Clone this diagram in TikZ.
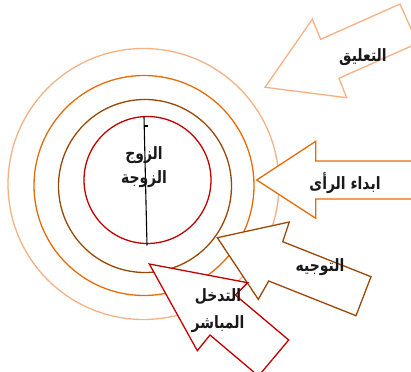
\documentclass[tikz,border=0pt]{standalone}
\usepackage{fontspec}
\newfontfamily\arabicfont[Script=Arabic, FakeStretch=0.82]{DejaVu Sans}
\TeXXeTstate=1
\usetikzlibrary{positioning}
\definecolor{ringpeach}{HTML}{F4B183}
\definecolor{ringorange}{HTML}{E46C0A}
\definecolor{ringbrown}{HTML}{984807}
\definecolor{ringred}{HTML}{C00000}

\begin{document}
\begin{tikzpicture}[
    x=1pt, y=-1pt,
    ring/.style={draw=#1, circle, line width=1.3pt, inner sep=0pt},
    bigarrow/.style={draw=#1, line width=1.3pt, fill=white, line join=miter},
    lbl/.style={font=\arabicfont\bfseries\fontsize{17}{24}\selectfont, align=center, text=black!90},
]
\useasboundingbox (0,0) rectangle (411,371);
\clip (0,0) rectangle (411,371);

% rings
\node[ring=ringpeach, minimum size=271pt] (r4) at (143.5,184) {};
\node[ring=ringorange, minimum size=220pt] (r3) at (144,185.5) {};
\node[ring=ringbrown, minimum size=173pt] (r2) at (145,186) {};
\node[ring=ringred, minimum size=127pt] (r1) at (147.5,180) {};

% axis through the couple
\coordinate (ax1) at (144,116.5);
\coordinate (ax2) at (147,245.5);
\draw[line width=1.1pt] (ax1) -- (ax2);
\draw[line width=1.1pt] (143.5,126) -- (147.5,126);

\node[lbl] (couple) at (144,167) {\beginR الزوج\endR\\\beginR الزوجة\endR};

% arrows
\draw[bigarrow=ringpeach] (265,87.3) -- (312.3,19.3) -- (320.7,39.3) -- (400,4)
    -- (417.5,43.3) -- (339,78.3) -- (346.7,97.7) -- cycle;
\draw[bigarrow=ringorange] (256.7,180) -- (315.7,141.3) -- (315.7,161) -- (420,161)
    -- (420,199) -- (315.7,199) -- (315.7,218.3) -- cycle;
\draw[bigarrow=ringbrown] (217.3,237.7) -- (289.3,222) -- (282.7,241.7) -- (371,276.7)
    -- (356,315.7) -- (268.7,281) -- (258.3,299.3) -- cycle;
\draw[bigarrow=ringred] (149.3,264) -- (247.7,282.7) -- (235.3,295) -- (288.7,340)
    -- (258.5,376) -- (210,335) -- (197.3,350.7) -- cycle;

% labels
\node[lbl] (comment) at (363,57) {\beginR التعليق\endR};
\node[lbl] (opinion) at (345,183) {\beginR ابداء الرأى\endR};
\node[lbl] (guide) at (320,267) {\beginR التوجيه\endR};
\node[lbl, font=\arabicfont\bfseries\fontsize{17}{27}\selectfont] (direct) at (218,311)
    {\beginR التدخل\endR\\\beginR المباشر\endR};

\end{tikzpicture}
\end{document}
